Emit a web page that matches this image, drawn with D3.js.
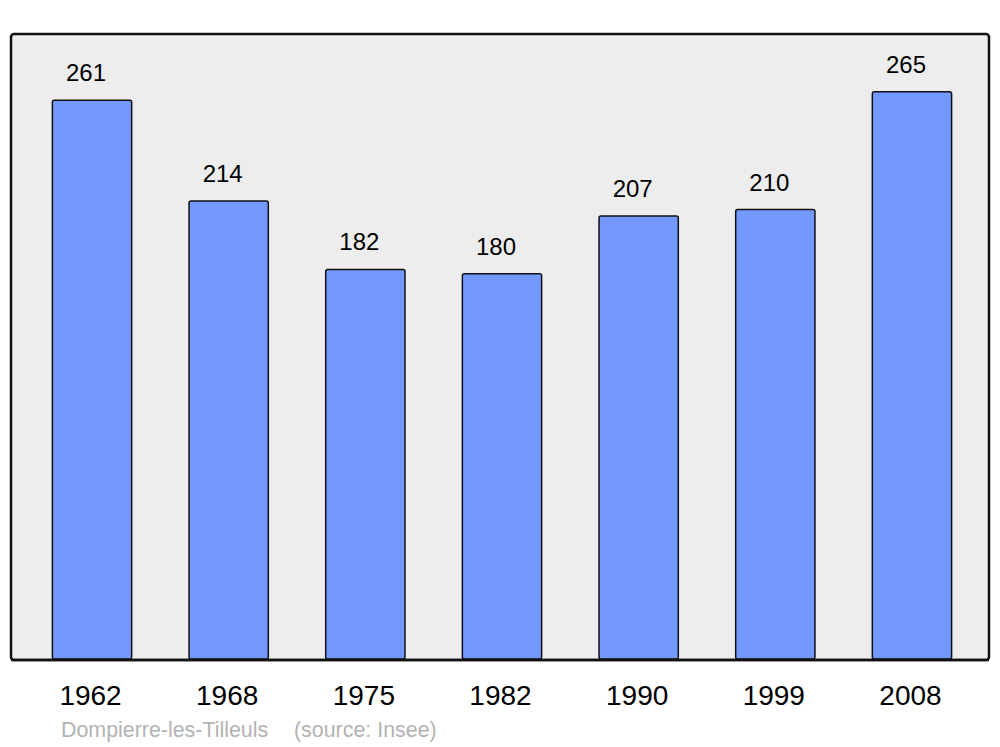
<!DOCTYPE html>
<html>
<head>
<meta charset="utf-8">
<script src="https://cdn.jsdelivr.net/npm/d3@7"></script>
<style>
  body { margin: 0; background: #fff; }
  text { font-family: "Liberation Sans", Arial, sans-serif; }
</style>
</head>
<body>
<svg id="chart"></svg>
<script>
// population by census year
var years = ["1962", "1968", "1975", "1982", "1990", "1999", "2008"];
var population = [261, 214, 182, 180, 207, 210, 265];
var yMax = 292;

var width = 1000, height = 747;
var panel = { left: 11, top: 34, right: 989, bottom: 660 };

var svg = d3.select("#chart")
    .attr("width", width)
    .attr("height", height);

svg.append("rect")
    .attr("x", panel.left)
    .attr("y", panel.top)
    .attr("width", panel.right - panel.left)
    .attr("height", panel.bottom - panel.top)
    .attr("rx", 3)
    .attr("fill", "#ededed")
    .attr("stroke", "#111")
    .attr("stroke-width", 2.5);

var x = d3.scaleBand()
    .domain(years)
    .range([23.7, 980.3])
    .paddingInner(0.42)
    .paddingOuter(0.21);

var y = d3.scaleLinear()
    .domain([0, yMax])
    .range([659, panel.top]);

var data = years.map(function(yr, i) { return { year: yr, value: population[i] }; });

svg.selectAll("rect.bar")
    .data(data)
  .enter().append("rect")
    .attr("class", "bar")
    .attr("x", function(d) { return x(d.year); })
    .attr("y", function(d) { return y(d.value); })
    .attr("width", x.bandwidth())
    .attr("height", function(d) { return y(0) - y(d.value); })
    .attr("rx", 2)
    .attr("fill", "#7399ff")
    .attr("stroke", "#111")
    .attr("stroke-width", 1.5);

// redraw the bottom border over the bar feet
svg.append("line")
    .attr("x1", panel.left)
    .attr("x2", panel.right)
    .attr("y1", panel.bottom)
    .attr("y2", panel.bottom)
    .attr("stroke", "#111")
    .attr("stroke-width", 2.5);

svg.selectAll("text.value")
    .data(data)
  .enter().append("text")
    .attr("class", "value")
    .attr("x", function(d) { return x(d.year) + x.bandwidth() / 2 - 6; })
    .attr("y", function(d) { return y(d.value) - 19; })
    .attr("text-anchor", "middle")
    .attr("font-size", 24)
    .attr("fill", "#000")
    .text(function(d) { return d.value; });

svg.selectAll("text.year")
    .data(years)
  .enter().append("text")
    .attr("class", "year")
    .attr("x", function(d) { return x(d) + x.bandwidth() / 2 - 1.5; })
    .attr("y", 705)
    .attr("text-anchor", "middle")
    .attr("font-size", 28)
    .attr("fill", "#000")
    .text(function(d) { return d; });

svg.append("text")
    .attr("x", 61)
    .attr("y", 737)
    .attr("font-size", 21.4)
    .attr("fill", "#b3b3b3")
    .text("Dompierre-les-Tilleuls");

svg.append("text")
    .attr("x", 294)
    .attr("y", 737)
    .attr("font-size", 21.4)
    .attr("fill", "#b3b3b3")
    .text("(source: Insee)");
</script>
</body>
</html>
